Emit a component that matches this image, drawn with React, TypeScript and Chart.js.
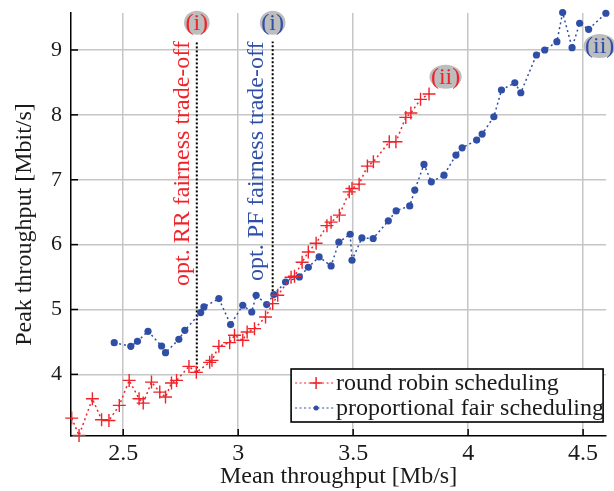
import React, { useEffect, useRef } from "react";
import { Chart, registerables } from "chart.js";
Chart.register(...registerables);

// Round robin scheduling (mean throughput Mb/s, peak throughput Mbit/s)
const rrX = [2.276, 2.308, 2.366, 2.406, 2.438, 2.483, 2.526, 2.569, 2.587, 2.623, 2.659, 2.684, 2.71, 2.732, 2.786, 2.818, 2.876, 2.886, 2.916, 2.963, 2.984, 3.02, 3.039, 3.071, 3.119, 3.15, 3.172, 3.23, 3.245, 3.278, 3.305, 3.339, 3.386, 3.404, 3.44, 3.483, 3.495, 3.526, 3.562, 3.588, 3.657, 3.686, 3.729, 3.751, 3.793, 3.83];
const rrY = [3.326, 3.059, 3.625, 3.301, 3.29, 3.522, 3.907, 3.625, 3.557, 3.881, 3.727, 3.65, 3.866, 3.907, 4.123, 4.031, 4.185, 4.216, 4.432, 4.489, 4.602, 4.525, 4.653, 4.705, 4.884, 5.091, 5.219, 5.497, 5.512, 5.728, 5.887, 6.022, 6.292, 6.346, 6.454, 6.813, 6.866, 6.932, 7.21, 7.276, 7.585, 7.585, 7.961, 8.028, 8.239, 8.321];

// Proportional fair scheduling
const pfX = [2.461, 2.533, 2.562, 2.608, 2.667, 2.684, 2.742, 2.768, 2.837, 2.851, 2.916, 2.967, 3.02, 3.059, 3.078, 3.124, 3.155, 3.206, 3.266, 3.305, 3.352, 3.404, 3.438, 3.487, 3.495, 3.538, 3.587, 3.653, 3.687, 3.746, 3.768, 3.808, 3.84, 3.895, 3.947, 3.974, 4.037, 4.061, 4.112, 4.145, 4.203, 4.229, 4.297, 4.333, 4.386, 4.411, 4.452, 4.485, 4.524, 4.599];
const pfY = [4.489, 4.432, 4.509, 4.664, 4.437, 4.335, 4.54, 4.679, 4.952, 5.039, 5.168, 4.767, 5.065, 4.961, 5.219, 5.076, 5.23, 5.424, 5.502, 5.651, 5.81, 5.671, 6.037, 6.16, 5.759, 6.103, 6.094, 6.366, 6.52, 6.597, 6.84, 7.236, 6.968, 7.071, 7.38, 7.492, 7.611, 7.704, 7.971, 8.383, 8.495, 8.341, 8.923, 9.0, 9.128, 9.576, 9.036, 9.412, 9.319, 9.566];

const xTicks = [2.5, 3, 3.5, 4, 4.5];
const yTicks = [4, 5, 6, 7, 8, 9];

// optimal trade-off markers: x, bottom y, top y
const tradeX = [2.82, 3.15];
const tradeYLow = [4.03, 5.22];
const tradeYHigh = [9.13, 9.13];
const tradeTexts = ["opt. RR fairness trade-off", "opt. PF fairness trade-off"];
const tradeTextX = [2.757, 3.081];
const tradeTextY = [7.25, 7.285];

// circled labels
const markLabels = ["(i)", "(i)", "(ii)", "(ii)"];
const markX = [2.82, 3.15, 3.902, 4.572];
const markY = [9.42, 9.42, 8.588, 9.06];

const RED = "#f0232a";
const BLUE = "#2f4ea6";
const FONT = "'Liberation Serif', 'DejaVu Serif', serif";

const overlayPlugin = {
  id: "overlay",
  afterDraw(chart: any) {
    const { ctx, chartArea: ca } = chart;
    const xs = chart.scales.x;
    const ys = chart.scales.y;
    ctx.save();
    // inward ticks
    ctx.strokeStyle = "#000";
    ctx.lineWidth = 1.5;
    xTicks.forEach((v) => {
      const p = xs.getPixelForValue(v);
      ctx.beginPath();
      ctx.moveTo(p, ca.bottom);
      ctx.lineTo(p, ca.bottom - 7);
      ctx.stroke();
    });
    yTicks.forEach((v) => {
      const p = ys.getPixelForValue(v);
      ctx.beginPath();
      ctx.moveTo(ca.left, p);
      ctx.lineTo(ca.left + 7, p);
      ctx.stroke();
    });
    // rotated texts
    ctx.font = `24px ${FONT}`;
    ctx.textAlign = "center";
    ctx.textBaseline = "middle";
    tradeTexts.forEach((t, i) => {
      ctx.save();
      ctx.translate(xs.getPixelForValue(tradeTextX[i]), ys.getPixelForValue(tradeTextY[i]));
      ctx.rotate(-Math.PI / 2);
      ctx.fillStyle = i === 0 ? RED : BLUE;
      ctx.fillText(t, 0, 0);
      ctx.restore();
    });
    // circled labels
    ctx.font = `24px ${FONT}`;
    markLabels.forEach((t, i) => {
      const px = xs.getPixelForValue(markX[i]);
      const py = ys.getPixelForValue(markY[i]);
      const w = ctx.measureText(t).width / 2 + 1.5;
      ctx.beginPath();
      ctx.ellipse(px, py, w, 12, 0, 0, Math.PI * 2);
      ctx.fillStyle = "#bdbdbd";
      ctx.fill();
      ctx.fillStyle = i % 2 === 0 ? RED : BLUE;
      ctx.fillText(t, px, py + 1);
    });
    // legend
    const lw = 312, lh = 53;
    const lx = ca.right - 3 - lw;
    const ly = ca.bottom - 14 - lh;
    ctx.fillStyle = "#fff";
    ctx.fillRect(lx, ly, lw, lh);
    ctx.strokeStyle = "#000";
    ctx.lineWidth = 1.6;
    ctx.strokeRect(lx, ly, lw, lh);
    const rows = [
      { label: "round robin scheduling", color: RED, cross: true },
      { label: "proportional fair scheduling", color: BLUE, cross: false },
    ];
    rows.forEach((r, i) => {
      const cy = ly + 14 + i * 25;
      ctx.strokeStyle = r.color;
      ctx.lineWidth = 1.2;
      ctx.setLineDash([2, 2.5]);
      ctx.beginPath();
      ctx.moveTo(lx + 4, cy);
      ctx.lineTo(lx + 43, cy);
      ctx.stroke();
      ctx.setLineDash([]);
      const mx = lx + 25;
      if (r.cross) {
        ctx.lineWidth = 1.5;
        ctx.beginPath();
        ctx.moveTo(mx - 6, cy);
        ctx.lineTo(mx + 6, cy);
        ctx.moveTo(mx, cy - 6);
        ctx.lineTo(mx, cy + 6);
        ctx.stroke();
      } else {
        ctx.fillStyle = r.color;
        ctx.beginPath();
        ctx.arc(mx, cy, 2.5, 0, Math.PI * 2);
        ctx.fill();
      }
      ctx.fillStyle = "#1a1a1a";
      ctx.textAlign = "left";
      ctx.font = `24px ${FONT}`;
      ctx.fillText(r.label, lx + 45, cy + 1);
    });
    ctx.restore();
  },
};

export default function App() {
  const ref = useRef<HTMLCanvasElement | null>(null);
  useEffect(() => {
    document.body.style.margin = "0";
    const canvas = ref.current!;
    const lineSets = tradeX.map((x, i) => ({
      data: [
        { x, y: tradeYLow[i] },
        { x, y: tradeYHigh[i] },
      ],
      showLine: true,
      borderColor: "#000",
      borderWidth: 2,
      borderDash: [2, 2],
      pointRadius: 0,
      order: 3,
    }));
    const chart = new Chart(canvas, {
      type: "scatter",
      data: {
        datasets: [
          ...lineSets,
          {
            label: "round robin scheduling",
            data: rrX.map((x, i) => ({ x, y: rrY[i] })),
            showLine: true,
            borderColor: RED,
            borderWidth: 1.5,
            borderDash: [2, 3],
            pointStyle: "cross",
            pointRadius: 6.5,
            pointBorderWidth: 1.4,
            pointBorderColor: RED,
            clip: false,
            order: 1,
          } as any,
          {
            label: "proportional fair scheduling",
            data: pfX.map((x, i) => ({ x, y: pfY[i] })),
            showLine: true,
            borderColor: BLUE,
            borderWidth: 1.5,
            borderDash: [2, 3],
            pointStyle: "circle",
            pointRadius: 3.6,
            pointBorderWidth: 0,
            pointBackgroundColor: BLUE,
            clip: false,
            order: 2,
          } as any,
        ],
      },
      options: {
        responsive: false,
        animation: false,
        layout: { padding: { top: 13, right: 6, left: 0, bottom: 0 } },
        plugins: { legend: { display: false }, tooltip: { enabled: false } },
        scales: {
          x: {
            type: "linear",
            min: 2.273,
            max: 4.6,
            afterBuildTicks: (s: any) => {
              s.ticks = xTicks.map((v) => ({ value: v }));
            },
            afterFit: (s: any) => {
              s.height = 55;
              s.paddingLeft = 0;
              s.paddingRight = 0;
            },
            grid: { color: "#c6c6c6", lineWidth: 1.5, drawTicks: false },
            border: { display: true, color: "#000", width: 1.5 },
            ticks: {
              font: { family: FONT, size: 24 },
              color: "#1a1a1a",
              padding: 3,
              maxRotation: 0,
              callback: (v: any) => String(v),
            },
            title: {
              display: true,
              text: "Mean throughput [Mb/s]",
              font: { family: FONT, size: 24 },
              color: "#1a1a1a",
              padding: { top: 0, bottom: 0 },
            },
          },
          y: {
            type: "linear",
            min: 3.05,
            max: 9.57,
            afterBuildTicks: (s: any) => {
              s.ticks = yTicks.map((v) => ({ value: v }));
            },
            afterFit: (s: any) => {
              s.width = 71;
              s.paddingTop = 0;
              s.paddingBottom = 0;
            },
            grid: { color: "#c6c6c6", lineWidth: 1.5, drawTicks: false },
            border: { display: true, color: "#000", width: 1.5 },
            ticks: {
              font: { family: FONT, size: 22 },
              color: "#1a1a1a",
              padding: 9,
              callback: (v: any) => String(v),
            },
            title: {
              display: true,
              text: "Peak throughput [Mbit/s]",
              font: { family: FONT, size: 24 },
              color: "#1a1a1a",
              padding: { top: 10, bottom: 0 },
            },
          },
        },
      },
      plugins: [overlayPlugin],
    });
    return () => chart.destroy();
  }, []);
  return (
    <div style={{ position: "absolute", left: 0, top: 0, width: 614, height: 491, background: "#fff" }}>
      <canvas ref={ref} width={614} height={491} />
    </div>
  );
}
